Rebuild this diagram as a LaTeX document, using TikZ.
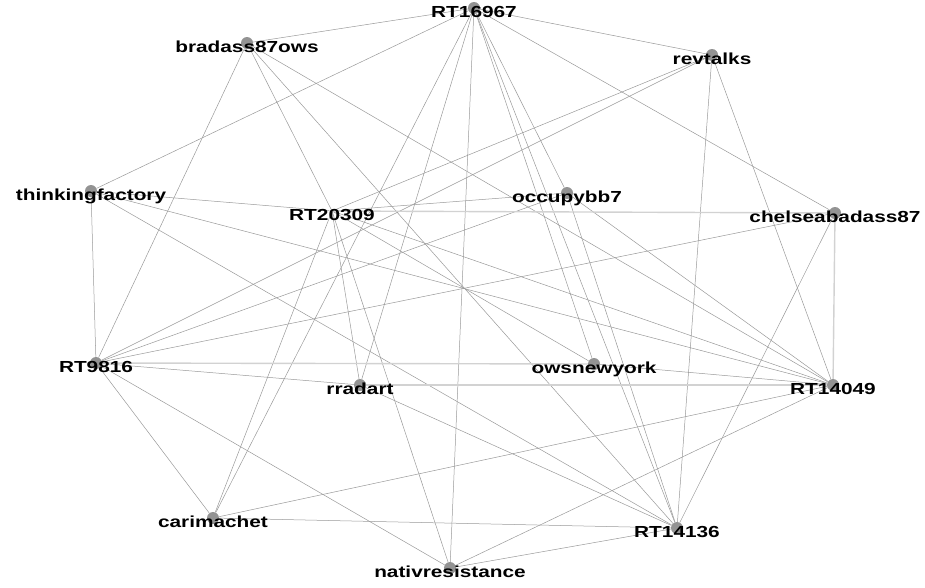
\documentclass[tikz,border=0pt]{standalone}
\usepackage{fontspec}
\setmainfont{Liberation Sans}[FakeStretch=1.3]
\begin{document}
\begin{tikzpicture}[x=1pt, y=-1pt,
    vtx/.style={circle, fill=gray!85, inner sep=0pt, minimum size=12pt},
    hidden/.style={circle, inner sep=0pt, minimum size=2pt},
    lbl/.style={font=\bfseries\fontsize{16}{16}\selectfont, text height=11.5pt, text depth=0pt, inner sep=0pt, yshift=-4pt},
    edge/.style={draw=gray!80, line width=0.5pt},
    wide/.style={draw=gray!35, line width=1.4pt}]
  \useasboundingbox (0,0) rectangle (925,587);
  % 頂点
  \node[vtx] (rt16967) at (474,8) {};
  \node[vtx] (bradass) at (247,43) {};
  \node[vtx] (revtalks) at (712,55) {};
  \node[vtx] (thinking) at (91,191) {};
  \node[hidden] (rt20309) at (332,211) {};
  \node[vtx] (occupy) at (567,193) {};
  \node[vtx] (chelsea) at (835,213) {};
  \node[vtx] (rt9816) at (96,363) {};
  \node[vtx] (rradart) at (360,385) {};
  \node[vtx] (owsny) at (594,364) {};
  \node[vtx] (rt14049) at (833,385) {};
  \node[vtx] (carima) at (213,518) {};
  \node[vtx] (rt14136) at (677,528) {};
  \node[vtx] (nativ) at (450,568) {};
  % 辺
  \foreach \a/\b in {rt16967/bradass, rt16967/revtalks, rt16967/thinking, rt16967/chelsea,
      rt16967/nativ, rt16967/carima, rt16967/rradart, rt16967/owsny, rt16967/occupy, rt16967/rt14136,
      bradass/rt9816, bradass/rt20309, bradass/rt14136, bradass/rt14049,
      revtalks/rt20309, revtalks/rt9816, revtalks/rt14136, revtalks/rt14049,
      thinking/rt20309, thinking/rt14049, thinking/rt14136, thinking/rt9816,
      rt20309/occupy, rt20309/owsny, rt20309/carima, rt20309/rradart, rt20309/nativ, rt20309/rt14049,
      occupy/rt9816, occupy/rt14136, occupy/rt14049,
      chelsea/rt9816, chelsea/rt14136,
      rt9816/rradart, rt9816/carima, rt9816/nativ,
      rradart/rt14136, owsny/rt14049,
      rt14049/carima, rt14049/nativ, carima/rt14136, rt14136/nativ}
    \draw[edge] (\a) -- (\b);
  \foreach \a/\b in {rt20309/chelsea, chelsea/rt14049, rt9816/owsny, rradart/rt14049}
    \draw[wide] (\a) -- (\b);
  % ラベル
  \node[lbl] (l-rt16967) at (rt16967) {RT16967};
  \node[lbl] (l-bradass) at (bradass) {bradass87ows};
  \node[lbl] (l-revtalks) at (revtalks) {revtalks};
  \node[lbl] (l-thinking) at (thinking) {thinkingfactory};
  \node[lbl] (l-rt20309) at (rt20309) {RT20309};
  \node[lbl] (l-occupy) at (occupy) {occupybb7};
  \node[lbl] (l-chelsea) at (chelsea) {chelseabadass87};
  \node[lbl] (l-rt9816) at (rt9816) {RT9816};
  \node[lbl] (l-rradart) at (rradart) {rradart};
  \node[lbl] (l-owsny) at (owsny) {owsnewyork};
  \node[lbl] (l-rt14049) at (rt14049) {RT14049};
  \node[lbl] (l-carima) at (carima) {carimachet};
  \node[lbl] (l-rt14136) at (rt14136) {RT14136};
  \node[lbl] (l-nativ) at (nativ) {nativresistance};
\end{tikzpicture}
\end{document}
